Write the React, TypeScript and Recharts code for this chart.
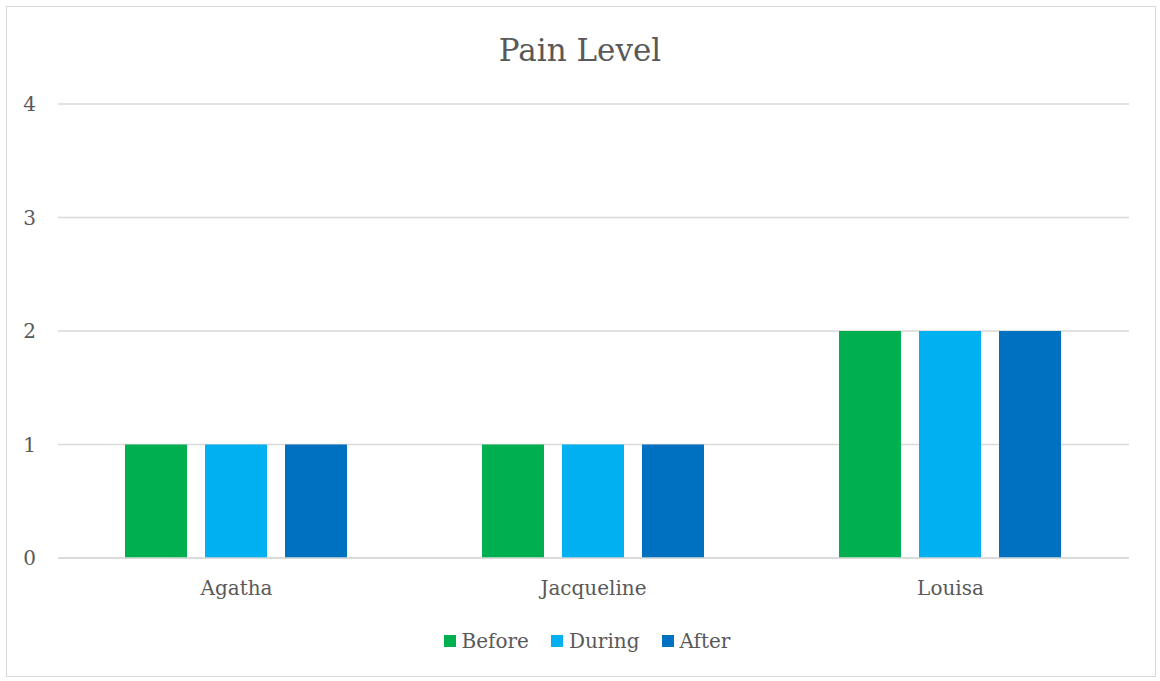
import React from 'react';
import { BarChart, Bar, XAxis, YAxis, CartesianGrid } from 'recharts';

const patients = ['Agatha', 'Jacqueline', 'Louisa'];
const beforeLevels = [1, 1, 2];
const duringLevels = [1, 1, 2];
const afterLevels = [1, 1, 2];
const yTicks = [0, 1, 2, 3, 4];

const seriesInfo = [
  { key: 'Before', color: '#00B050' },
  { key: 'During', color: '#00B0F0' },
  { key: 'After', color: '#0070C0' },
];

const data = patients.map((name, i) => ({
  name,
  Before: beforeLevels[i],
  During: duringLevels[i],
  After: afterLevels[i],
}));

const FONT = '"DejaVu Serif", serif';
const TEXT = '#595959';

const LegendRow = () => (
  <div
    style={{
      position: 'absolute',
      top: 628,
      left: 7,
      width: 1160,
      display: 'flex',
      justifyContent: 'center',
      fontFamily: FONT,
      fontSize: 20,
      color: TEXT,
      lineHeight: '26px',
    }}
  >
    {seriesInfo.map((s) => (
      <div key={s.key} style={{ display: 'flex', alignItems: 'center', margin: '0 11px' }}>
        <span style={{ width: 12, height: 12, background: s.color, display: 'inline-block', marginRight: 6 }} />
        <span>{s.key}</span>
      </div>
    ))}
  </div>
);

export default function App() {
  return (
    <div style={{ position: 'absolute', left: 0, top: 0, width: 1160, height: 681, background: '#fff', overflow: 'hidden' }}>
      <div
        style={{
          position: 'absolute',
          left: 6,
          top: 6,
          width: 1150,
          height: 671,
          border: '1px solid #D9D9D9',
          boxSizing: 'border-box',
        }}
      />
      <div
        style={{
          position: 'absolute',
          top: 30,
          width: 1160,
          textAlign: 'center',
          fontFamily: FONT,
          fontSize: 31,
          color: TEXT,
          lineHeight: '40px',
        }}
      >
        Pain Level
      </div>
      <div style={{ position: 'absolute', left: 0, top: 0 }}>
        <BarChart
          width={1160}
          height={681}
          data={data}
          margin={{ top: 104, right: 31, left: 0, bottom: 83 }}
          barCategoryGap={67}
          barGap={18}
        >
          <CartesianGrid vertical={false} stroke="#D9D9D9" strokeWidth={1.5} />
          <XAxis
            dataKey="name"
            axisLine={{ stroke: '#D9D9D9', strokeWidth: 1.5 }}
            tickLine={false}
            tickSize={0}
            tickMargin={23}
            height={40}
            tick={{ fill: TEXT, fontFamily: FONT, fontSize: 20 }}
          />
          <YAxis
            domain={[0, 4]}
            ticks={yTicks}
            axisLine={false}
            tickLine={false}
            tickSize={0}
            tickMargin={22}
            width={58}
            tick={{ fill: TEXT, fontFamily: FONT, fontSize: 20 }}
          />
          {seriesInfo.map((s) => (
            <Bar key={s.key} dataKey={s.key} fill={s.color} isAnimationActive={false} />
          ))}
        </BarChart>
      </div>
      <LegendRow />
    </div>
  );
}
